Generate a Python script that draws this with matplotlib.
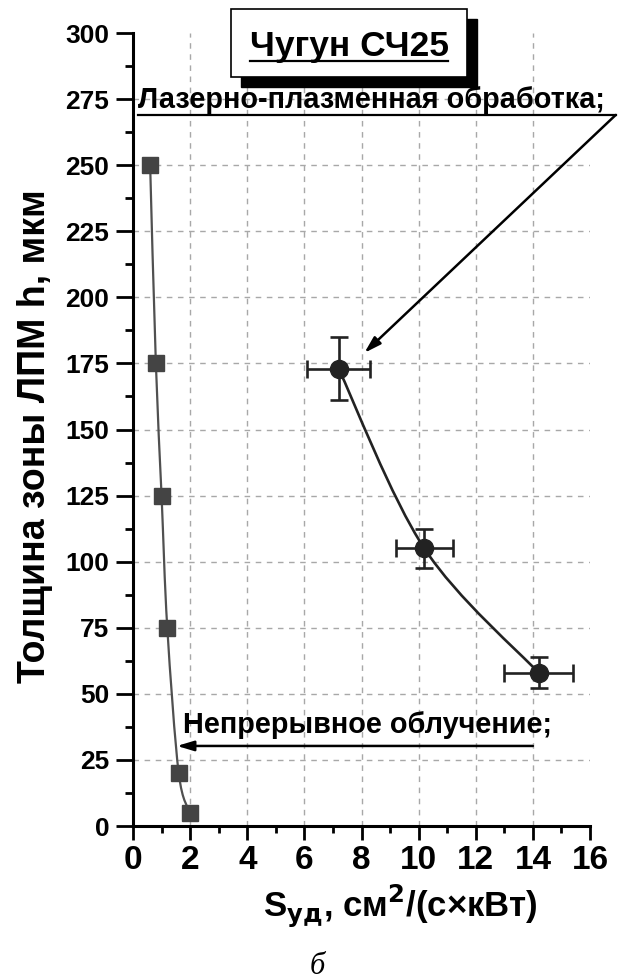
import matplotlib
matplotlib.use("Agg")
import matplotlib.pyplot as plt
from matplotlib.path import Path
from matplotlib.patches import PathPatch, Rectangle
from matplotlib.lines import Line2D

plt.rcParams['font.family'] = ['Liberation Sans', 'DejaVu Sans']

# continuous irradiation (squares)
cont_s = [0.6, 0.8, 1.0, 1.2, 1.6, 2.0]
cont_h = [250, 175, 125, 75, 20, 5]

# laser-plasma treatment (circles with error bars)
lpm_s = [7.2, 10.2, 14.2]
lpm_h = [173, 105, 58]
lpm_sx = [1.1, 1.0, 1.2]
lpm_sh = [12, 7.5, 5.8]

xticks = list(range(0, 17, 2))
yticks = list(range(0, 301, 25))


def smooth_path(xs, ys):
    # Catmull-Rom through the points, drawn as cubic Bezier segments
    pts = list(zip(xs, ys))
    verts = [pts[0]]
    codes = [Path.MOVETO]
    n = len(pts)
    for i in range(n - 1):
        p0 = pts[i - 1] if i > 0 else pts[i]
        p1 = pts[i]
        p2 = pts[i + 1]
        p3 = pts[i + 2] if i + 2 < n else pts[i + 1]
        c1 = (p1[0] + (p2[0] - p0[0]) / 6, p1[1] + (p2[1] - p0[1]) / 6)
        c2 = (p2[0] - (p3[0] - p1[0]) / 6, p2[1] - (p3[1] - p1[1]) / 6)
        verts += [c1, c2, p2]
        codes += [Path.CURVE4] * 3
    return Path(verts, codes)


fig = plt.figure(figsize=(6.34, 9.8), dpi=100)
ax = fig.add_axes([0.2098, 0.1571, 0.7208, 0.8092])
ax.set_xlim(0, 16)
ax.set_ylim(0, 300)

for x in xticks[1:-1]:
    ax.axvline(x, color='#a8a8a8', lw=1.0, ls=(0, (4, 4)), zorder=0)
for y in yticks[1:-1]:
    ax.axhline(y, color='#a8a8a8', lw=1.0, ls=(0, (4, 4)), zorder=0)

ax.add_patch(PathPatch(smooth_path(cont_s, cont_h), fill=False,
                       ec='#505050', lw=1.6, zorder=2))
ax.plot(cont_s, cont_h, ls='none', marker='s', ms=12, color='#444444', zorder=3)

ax.add_patch(PathPatch(smooth_path(lpm_s, lpm_h), fill=False,
                       ec='#222222', lw=1.9, zorder=2))
ax.errorbar(lpm_s, lpm_h, xerr=lpm_sx, yerr=lpm_sh, fmt='o', ms=13,
            color='#222222', ecolor='#222222', elinewidth=1.9,
            capsize=6.5, capthick=1.9, zorder=3)

for side in ['top', 'right']:
    ax.spines[side].set_visible(False)
for side in ['left', 'bottom']:
    ax.spines[side].set_linewidth(2.2)

ax.set_xticks(xticks)
ax.set_yticks(yticks)
ax.set_xticks([x + 1 for x in xticks[:-1]], minor=True)
ax.set_yticks([y + 12.5 for y in yticks[:-1]], minor=True)
ax.tick_params(axis='x', which='major', length=10, width=2.0, direction='out')
ax.tick_params(axis='x', which='minor', length=5, width=2.0, direction='out')
ax.tick_params(axis='y', which='major', length=12, width=2.0, direction='out')
ax.tick_params(axis='y', which='minor', length=6, width=2.0, direction='out')
ax.tick_params(axis='x', labelsize=24, pad=4)
ax.tick_params(axis='y', labelsize=19, pad=5)
for lab in ax.get_xticklabels() + ax.get_yticklabels():
    lab.set_fontweight('bold')

fig.text(35 / 634, 1 - 436 / 980, 'Толщина зоны ЛПМ h, мкм', fontsize=27,
         fontweight='bold', rotation=90, ha='center', va='center')
fig.text(0.632, 1 - 917 / 980, 'S$_{\\mathbf{уд}}$, см$^{\\mathbf{2}}$/(с×кВт)',
         fontsize=25, fontweight='bold', ha='center', va='baseline')
fig.text(0.5, 0.006, 'б', fontsize=22, style='italic',
         family=['Liberation Serif', 'DejaVu Serif'], ha='center', va='baseline')

# title box with drop shadow
fig.add_artist(Rectangle((241 / 634, 1 - 87 / 980), 236 / 634, 68 / 980,
                         transform=fig.transFigure, fc='black', ec='black'))
fig.add_artist(Rectangle((231 / 634, 1 - 77 / 980), 236 / 634, 68 / 980,
                         transform=fig.transFigure, fc='white', ec='black', lw=1.2))
fig.text(349 / 634, 1 - 56 / 980, 'Чугун СЧ25', fontsize=25.5, fontweight='bold',
         ha='center', va='baseline')
fig.add_artist(Line2D([250 / 634, 448 / 634], [1 - 61 / 980, 1 - 61 / 980],
                      transform=fig.transFigure, color='black', lw=1.6))

# laser-plasma label, underline and arrow
ax.text(0.17, 271.5, 'Лазерно-плазменная обработка;', fontsize=20.8,
        fontweight='bold', ha='left', va='baseline', clip_on=False)
ax.plot([0.17, 16.9], [269, 269], color='black', lw=1.6, clip_on=False)
ax.annotate('', xy=(8.1, 179), xytext=(16.9, 269),
            arrowprops=dict(arrowstyle='-|>,head_length=1.0,head_width=0.3',
                            color='black', lw=1.8, shrinkA=0, shrinkB=0),
            annotation_clip=False)

# continuous irradiation label and arrow
ax.text(1.75, 35.2, 'Непрерывное облучение;', fontsize=20.8, fontweight='bold',
        ha='left', va='baseline')
ax.annotate('', xy=(1.54, 30.3), xytext=(14.0, 30.3),
            arrowprops=dict(arrowstyle='-|>,head_length=1.0,head_width=0.3',
                            color='black', lw=1.8, shrinkA=0, shrinkB=0))

fig.savefig('out.png', dpi=100)
